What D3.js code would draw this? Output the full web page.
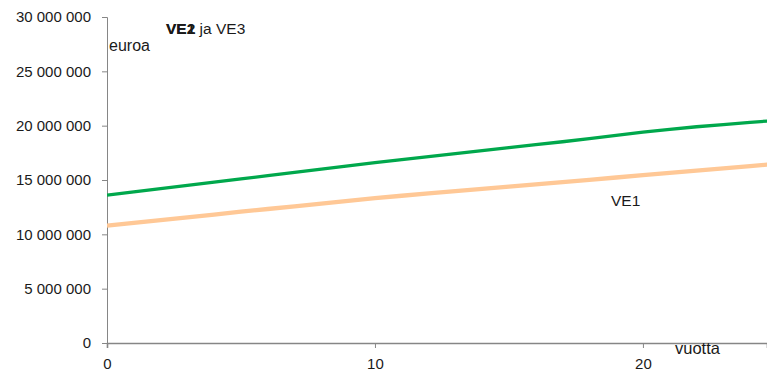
<!DOCTYPE html>
<html>
<head>
<meta charset="utf-8">
<script src="https://cdn.jsdelivr.net/npm/d3@7"></script>
<style>
  html, body { margin: 0; padding: 0; background: #fff; }
  svg { display: block; font-family: "Liberation Sans", Arial, sans-serif; }
</style>
</head>
<body>
<svg id="chart" width="767" height="372"></svg>
<script>
// Years on the x axis
const years = d3.range(0, 26);
// VE2 ja VE3 (green) costs in euros per year
const ve23 = [13600000, 13900000, 14200000, 14500000, 14800000, 15100000, 15400000, 15700000, 16000000, 16300000,
              16600000, 16880000, 17150000, 17430000, 17700000, 17980000, 18250000, 18520000, 18800000, 19100000,
              19400000, 19650000, 19900000, 20100000, 20300000, 20500000];
// VE1 (light orange) costs in euros per year
const ve1 = [10800000, 11050000, 11300000, 11560000, 11820000, 12080000, 12330000, 12580000, 12830000, 13080000,
             13330000, 13550000, 13760000, 13970000, 14180000, 14390000, 14600000, 14810000, 15020000, 15230000,
             15440000, 15650000, 15860000, 16070000, 16280000, 16490000];
const yTicks = [0, 5000000, 10000000, 15000000, 20000000, 25000000, 30000000];
const xTicks = [0, 10, 20];

const svg = d3.select("#chart");
const mLeft = 107, mRight = 767, mTop = 17, mBottom = 343;

const x = d3.scaleLinear().domain([0, 24.63]).range([mLeft, mRight]);
const y = d3.scaleLinear().domain([0, 30000000]).range([mBottom, mTop]);

const fmt = v => d3.format(",")(v).replace(/,/g, " ");

svg.append("defs").append("clipPath").attr("id", "plot")
  .append("rect").attr("x", mLeft).attr("y", 0).attr("width", mRight - mLeft).attr("height", mBottom);

// Y axis
const yAxis = svg.append("g").attr("transform", `translate(${mLeft},0)`)
  .call(d3.axisLeft(y).tickValues(yTicks).tickFormat(fmt).tickSize(5).tickPadding(11));
yAxis.select(".domain").attr("stroke", "#868686");
yAxis.selectAll(".tick line").attr("stroke", "#868686");
yAxis.selectAll(".tick text").attr("font-size", 15).attr("fill", "#1a1a1a");

// X axis
const xAxis = svg.append("g").attr("transform", `translate(0,${mBottom})`)
  .call(d3.axisBottom(x).tickValues(xTicks).tickFormat(d3.format("d")).tickSize(5).tickPadding(10));
xAxis.select(".domain").attr("stroke", "#868686").attr("stroke-width", 1.6);
xAxis.selectAll(".tick line").attr("stroke", "#868686");
xAxis.selectAll(".tick text").attr("font-size", 15).attr("fill", "#1a1a1a");

const line = d3.line().x((d, i) => x(years[i])).y(d => y(d));

const g = svg.append("g").attr("clip-path", "url(#plot)");
g.append("path").datum(ve1).attr("d", line)
  .attr("fill", "none").attr("stroke", "#ffc896").attr("stroke-width", 4.3);
g.append("path").datum(ve23).attr("d", line)
  .attr("fill", "none").attr("stroke", "#00a84c").attr("stroke-width", 3.3);

// Labels
svg.append("text").attr("x", 109).attr("y", 51).attr("font-size", 16).attr("fill", "#1a1a1a").text("euroa");
// Series title, printed over an earlier "VE1" caption
svg.append("text").attr("x", 166).attr("y", 34).attr("font-size", 15.5).attr("font-weight", "bold")
  .attr("fill", "#1a1a1a").text("VE1");
const t = svg.append("text").attr("x", 166).attr("y", 34).attr("font-size", 15.5).attr("fill", "#1a1a1a");
t.append("tspan").attr("font-weight", "bold").text("VE2");
t.append("tspan").text(" ja VE3");
svg.append("text").attr("x", 611).attr("y", 206).attr("font-size", 15.5).attr("fill", "#1a1a1a").text("VE1");
svg.append("text").attr("x", 675).attr("y", 354).attr("font-size", 16.5).attr("fill", "#1a1a1a").text("vuotta");
</script>
</body>
</html>
